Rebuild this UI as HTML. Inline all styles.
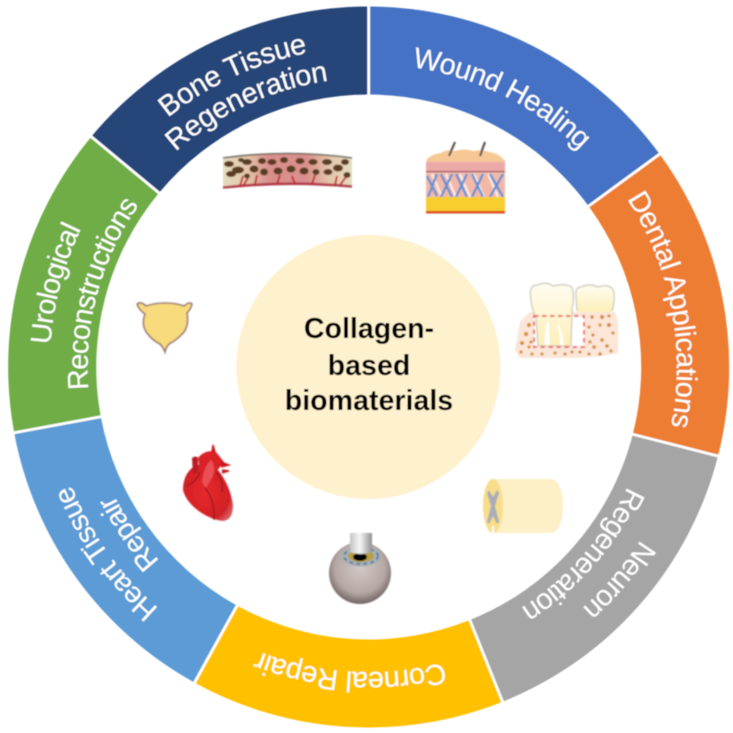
<!DOCTYPE html>
<html><head><meta charset="utf-8">
<style>
html,body{margin:0;padding:0;background:#fff;width:733px;height:733px;overflow:hidden}
svg{display:block;overflow:hidden}
.t{font-family:"Liberation Sans",sans-serif;font-size:29px;letter-spacing:-0.9px;fill:#fff;text-anchor:middle}
.c{font-family:"Liberation Sans",sans-serif;font-size:28.6px;font-weight:bold;fill:#000;text-anchor:middle}
</style></head><body>
<svg width="733" height="733" viewBox="0 0 733 733" xmlns="http://www.w3.org/2000/svg">
<defs>
<filter id="b" x="-5%" y="-5%" width="110%" height="110%"><feGaussianBlur stdDeviation="0.55"/></filter>
<filter id="b2" x="-10%" y="-10%" width="120%" height="120%"><feGaussianBlur stdDeviation="0.7"/></filter>
<path id="r303" d="M368.7 64A303 303 0 1 1 368.7 670A303 303 0 1 1 368.7 64"/>
<path id="r305" d="M368.7 62A305 305 0 1 1 368.7 672A305 305 0 1 1 368.7 62"/>
<path id="r308" d="M368.7 59A308 308 0 1 1 368.7 675A308 308 0 1 1 368.7 59"/>
<path id="r319" d="M368.7 48A319 319 0 1 1 368.7 686A319 319 0 1 1 368.7 48"/>
<path id="r320" d="M368.7 47A320 320 0 1 1 368.7 687A320 320 0 1 1 368.7 47"/>
<path id="r322" d="M368.7 45A322 322 0 1 1 368.7 689A322 322 0 1 1 368.7 45"/>
<path id="r281" d="M368.7 86A281 281 0 1 1 368.7 648A281 281 0 1 1 368.7 86"/>
<path id="r285" d="M368.7 82A285 285 0 1 1 368.7 652A285 285 0 1 1 368.7 82"/>
<path id="r289" d="M368.7 78A289 289 0 1 1 368.7 656A289 289 0 1 1 368.7 78"/>
<linearGradient id="bone" x1="0" x2="1" y1="0" y2="0"><stop offset="0" stop-color="#e6dcc0"/><stop offset=".2" stop-color="#e3c4a8"/><stop offset=".35" stop-color="#d98f8c"/><stop offset=".65" stop-color="#d98f8c"/><stop offset=".82" stop-color="#e3c4a8"/><stop offset="1" stop-color="#e6dcc0"/></linearGradient>
<linearGradient id="cyl" x1="0" x2="1" y1="0" y2="0"><stop offset="0" stop-color="#c4c4c4"/><stop offset=".45" stop-color="#f6f6f6"/><stop offset="1" stop-color="#8f8f8f"/></linearGradient>
<linearGradient id="crown" x1="0" x2="0" y1="0" y2="1"><stop offset="0" stop-color="#FFFCF0"/><stop offset="1" stop-color="#FCEFB8"/></linearGradient>
<radialGradient id="eye" cx=".5" cy=".42" r=".58"><stop offset="0" stop-color="#d3c8c6"/><stop offset=".7" stop-color="#b5a7a4"/><stop offset="1" stop-color="#6f6562"/></radialGradient>
<radialGradient id="hrt" cx=".45" cy=".5" r=".6"><stop offset="0" stop-color="#e62a2c"/><stop offset=".8" stop-color="#d11f25"/><stop offset="1" stop-color="#d8555a"/></radialGradient>
</defs>
<rect width="733" height="733" fill="#fff"/>
<g filter="url(#b)">
<path d="M368.7 6.5A360.5 360.5 0 0 1 659.6 154.1L588.6 206.1A272.5 272.5 0 0 0 368.7 94.5Z" fill="#4472C4"/>
<path d="M659.6 154.1A360.5 360.5 0 0 1 718 456L632.8 434.3A272.5 272.5 0 0 0 588.6 206.1Z" fill="#ED7D31"/>
<path d="M718 456A360.5 360.5 0 0 1 502.6 701.7L469.9 620A272.5 272.5 0 0 0 632.8 434.3Z" fill="#A5A5A5"/>
<path d="M502.6 701.7A360.5 360.5 0 0 1 194.5 682.6L237 605.6A272.5 272.5 0 0 0 469.9 620Z" fill="#FFC000"/>
<path d="M194.5 682.6A360.5 360.5 0 0 1 14.2 432.7L100.8 416.7A272.5 272.5 0 0 0 237 605.6Z" fill="#5B9BD5"/>
<path d="M14.2 432.7A360.5 360.5 0 0 1 91.3 136.7L159 192.9A272.5 272.5 0 0 0 100.8 416.7Z" fill="#70AD47"/>
<path d="M91.3 136.7A360.5 360.5 0 0 1 368.7 6.5L368.7 94.5A272.5 272.5 0 0 0 159 192.9Z" fill="#264478"/>
<g stroke="#fff" stroke-width="2.8" stroke-linecap="square">
<line x1="368.7" y1="94.5" x2="368.7" y2="6.5"/>
<line x1="588.6" y1="206.1" x2="659.6" y2="154.1"/>
<line x1="632.8" y1="434.3" x2="718" y2="456"/>
<line x1="469.9" y1="620" x2="502.6" y2="701.7"/>
<line x1="237" y1="605.6" x2="194.5" y2="682.6"/>
<line x1="100.8" y1="416.7" x2="14.2" y2="432.7"/>
<line x1="159" y1="192.9" x2="91.3" y2="136.7"/>
</g>
<text class="t" style="letter-spacing:-0.6px"><textPath href="#r303" startOffset="7.28%">Wound Healing</textPath></text>
<text class="t" style="letter-spacing:-0.5px"><textPath href="#r308" startOffset="21.94%">Dental Applications</textPath></text>
<text class="t"><textPath href="#r322" startOffset="36.22%">Neuron</textPath></text>
<text class="t"><textPath href="#r285" startOffset="36.44%">Regeneration</textPath></text>
<text class="t" style="letter-spacing:-0.5px"><textPath href="#r305" startOffset="50.95%">Corneal Repair</textPath></text>
<text class="t"><textPath href="#r320" startOffset="65.17%">Heart Tissue</textPath></text>
<text class="t"><textPath href="#r285" startOffset="65.33%">Repair</textPath></text>
<text class="t"><textPath href="#r319" startOffset="79.11%">Urological</textPath></text>
<text class="t"><textPath href="#r281" startOffset="79.22%">Reconstructions</textPath></text>
<text class="t" style="letter-spacing:-0.4px"><textPath href="#r320" startOffset="93.06%">Bone Tissue</textPath></text>
<text class="t" style="letter-spacing:-0.3px"><textPath href="#r289" startOffset="93.06%">Regeneration</textPath></text>
<circle cx="368.5" cy="367" r="132" fill="#FEF1CD"/>
<text class="c" x="369" y="338">Collagen-</text>
<text class="c" x="369" y="375">based</text>
<text class="c" x="369" y="410">biomaterials</text>
</g>
<!-- bone icon -->
<g filter="url(#b2)">
<path d="M223 158Q287 149 352 158L352 188Q287 181 223 189Z" fill="url(#bone)"/>
<path d="M223 158Q287 149 352 158" fill="none" stroke="#6e6a5e" stroke-width="1.6"/>
<path d="M223 187.500Q287 180.500 352 186.500" fill="none" stroke="#b03a48" stroke-width="2.6"/>
<g fill="#5a3c20">
<ellipse cx="229" cy="164" rx="5" ry="3"/><ellipse cx="238" cy="170" rx="6" ry="3.500"/><ellipse cx="247" cy="162" rx="5" ry="3"/><ellipse cx="231" cy="174" rx="5" ry="3"/><ellipse cx="241" cy="160" rx="3" ry="2"/><ellipse cx="247" cy="176" rx="3" ry="2.500"/>
<ellipse cx="254" cy="169" rx="4.500" ry="3.500"/><ellipse cx="262" cy="161" rx="4" ry="3"/><ellipse cx="264" cy="172" rx="4" ry="3.500"/><ellipse cx="272" cy="162" rx="4.500" ry="3"/>
<ellipse cx="278" cy="171" rx="4.500" ry="3.500"/><ellipse cx="284" cy="160" rx="4" ry="3"/><ellipse cx="291" cy="169" rx="4.500" ry="3.500"/><ellipse cx="300" cy="161" rx="4.500" ry="3"/>
<ellipse cx="304" cy="171" rx="4.500" ry="3.500"/><ellipse cx="313" cy="162" rx="4.500" ry="3"/><ellipse cx="316" cy="172" rx="3.500" ry="3"/><ellipse cx="327" cy="162" rx="5" ry="3"/><ellipse cx="338" cy="168" rx="5" ry="3.500"/>
<ellipse cx="345" cy="162" rx="4" ry="3"/><ellipse cx="328" cy="172" rx="4.500" ry="3"/><ellipse cx="347" cy="175" rx="3.500" ry="3"/>
</g>
<g fill="none" stroke="#c0242c" stroke-width="1.8">
<path d="M240 186L243 176M243 186L248 178M255 185L257 175M277 184L280 175M295 184L292 176M312 184L315 175M335 185L337 176M340 185L346 177"/>
</g>
</g>
<!-- skin icon -->
<g filter="url(#b2)">
<path d="M426 163L427 159Q432 154 441 153Q447 149 455 151Q465 148 473 151Q482 149 489 152Q499 153 505 161L505 163Z" fill="#F6C896"/>
<rect x="426" y="162" width="79" height="10" fill="#EBA9A8"/>
<rect x="426" y="171" width="79" height="1.600" fill="#A85A5A"/>
<rect x="426" y="173" width="79" height="24" fill="#F3B9A6"/>
<g stroke="#fff" stroke-width="1.800" fill="none" opacity=".85">
<path d="M432 174L442 197M446 174L456 197M460 174L470 197M474 174L484 197M488 174L498 197"/>
</g>
<g stroke="#5C90D6" stroke-width="2.300" fill="none">
<path d="M427 176L437 196M437 174L428 197M441 174L452 197M452 174L441 197M456 174L467 197M467 174L456 197M472 174L483 197M483 174L472 197M490 174L503 197M503 174L490 197"/>
</g>
<rect x="426" y="197" width="79" height="15" fill="#F7CE2E"/>
<rect x="426" y="211" width="79" height="2.400" fill="#D9401C"/>
<path d="M449 156L455 142M480 156L485 142" stroke="#4a4440" stroke-width="2" fill="none"/>
</g>
<!-- dental icon -->
<g filter="url(#b2)">
<path d="M520 322L530 312L615 312L618 322L618 353Q600 358 560 358L520 358L515 350Z" fill="#FBE6D8"/>
<rect x="534" y="316" width="50" height="31" fill="#fff"/>
<path d="M531 300Q528 285 537 285Q547 281 553 286Q565 283 572 287Q575 298 572 308L572 318L571 346L538 346L536 318Q532 310 531 300Z" fill="url(#crown)" stroke="#C9C6B8" stroke-width="1.200"/>
<path d="M547 322Q544 335 545 345L550 345Q549 335 549 322Z" fill="#fff"/>
<path d="M557 325Q561 335 560 345L564 345Q563 335 559 325Z" fill="#fff"/>
<path d="M577 312L576 296Q575 287 581 287Q590 283 598 287Q611 283 614 292Q615 302 612 312Z" fill="url(#crown)"/>
<path d="M577 311L576 296Q575 287 581 287Q590 283 598 287Q611 283 614 292Q615 302 612 311" fill="none" stroke="#C9C6B8" stroke-width="1.200"/>
<rect x="534" y="316" width="50" height="31" fill="none" stroke="#EF6464" stroke-width="2" stroke-dasharray="4.500 3.500"/>
<g fill="#D98A2B">
<circle cx="529" cy="325" r="2"/><circle cx="526" cy="334" r="2"/><circle cx="522" cy="343" r="2"/><circle cx="531" cy="342" r="1.600"/><circle cx="529" cy="347" r="1.600"/>
<circle cx="521" cy="352" r="1.600"/><circle cx="532" cy="354" r="1.600"/><circle cx="542" cy="354" r="1.600"/><circle cx="555" cy="353" r="1.600"/><circle cx="565" cy="354" r="1.600"/><circle cx="572" cy="352" r="1.600"/><circle cx="580" cy="352" r="1.600"/>
<circle cx="592" cy="317" r="1.800"/><circle cx="602" cy="317" r="2"/><circle cx="609" cy="316" r="1.600"/><circle cx="589" cy="327" r="1.600"/><circle cx="600" cy="325" r="1.600"/><circle cx="609" cy="325" r="2"/>
<circle cx="593" cy="335" r="1.600"/><circle cx="602" cy="340" r="1.800"/><circle cx="613" cy="333" r="1.600"/><circle cx="594" cy="347" r="1.800"/><circle cx="607" cy="346" r="1.800"/>
<circle cx="589" cy="354" r="1.600"/><circle cx="600" cy="354" r="1.800"/><circle cx="611" cy="351" r="1.600"/><circle cx="590" cy="342" r="1.600"/>
</g>
</g>
<!-- bladder -->
<path filter="url(#b2)" d="M137 304Q141 301 146 306Q155 303 165 303Q176 303 184 306Q190 301 192 304Q191 309 187 313Q189 325 184 332Q177 340 169 344Q166 347 165 352Q163 347 160 344Q152 340 147 333Q141 325 145 314Q139 310 137 304Z" fill="#F7DB7B" stroke="#9B7A72" stroke-width="1.600"/>
<!-- heart -->
<g filter="url(#b2)">
<path d="M183 490Q183 475 193 467Q205 460 218 470Q230 485 233 505Q233 520 223 521Q212 520 200 512Q186 502 183 490Z" fill="url(#hrt)"/>
<path d="M192 458Q196 455 198 458L198 472L193 474Z" fill="#B81A20"/>
<path d="M198 458Q205 449 216 452L224 462L216 472L205 478L200 472Z" fill="#DA2025"/>
<path d="M202 482Q204 466 211 460Q216 466 213 476L206 488Z" fill="#EA5054"/>
<path d="M212 452L213 445L215 452M221 462L229 465L221 467M222 470L229 471L222 473" fill="#C8191F" stroke="#C8191F" stroke-width="1.400"/>
<path d="M186 486Q196 482 200 472M205 488Q215 500 214 520M216 472Q224 480 222 492" fill="none" stroke="#7d1418" stroke-width="1"/>
</g>
<!-- eye -->
<g filter="url(#b2)">
<circle cx="360" cy="573" r="31" fill="url(#eye)"/>
<ellipse cx="361" cy="556" rx="20" ry="10.500" fill="#A9B2B4"/>
<ellipse cx="361" cy="556" rx="17" ry="8" fill="none" stroke="#5b7fa0" stroke-width="2" stroke-dasharray="4 3"/>
<ellipse cx="361" cy="556" rx="13" ry="6" fill="#B79F3F"/>
<ellipse cx="360" cy="557" rx="7" ry="4" fill="#000"/>
<path d="M350 533L372 533L372 552Q361 556 350 552Z" fill="url(#cyl)"/>
</g>
<!-- nerve -->
<g filter="url(#b2)">
<path d="M493 479L553 479Q563 485 563 506Q563 527 553 533L493 533Z" fill="#FDEFC6"/>
<ellipse cx="493" cy="506" rx="10" ry="27" fill="#F8DD8A"/>
<path d="M489 490L493 497L497 490L499 493L495 506L499 522L497 524L493 516L489 524L487 522L491 506L487 493Z" fill="#A9ADB8"/>
<rect x="492" y="526" width="2" height="7" fill="#fff"/>
</g>
</svg>
</body></html>
